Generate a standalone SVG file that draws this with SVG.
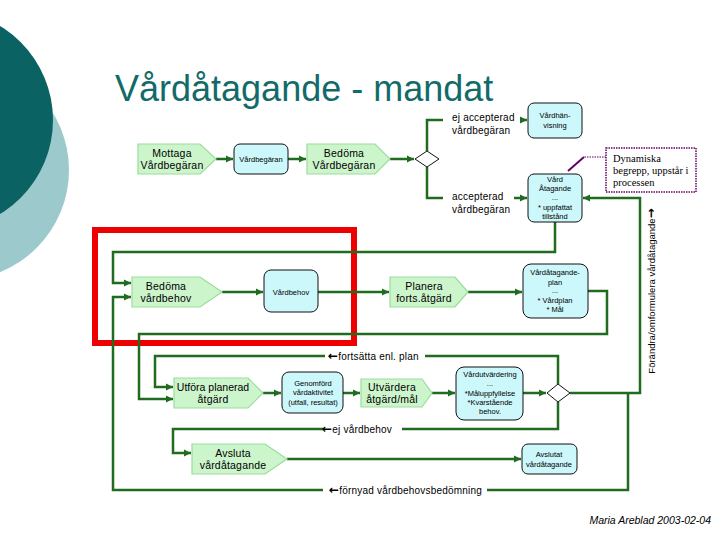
<svg xmlns="http://www.w3.org/2000/svg" width="720" height="540" viewBox="0 0 720 540">
<defs>
<style>
.pent{fill:#ccf5cc;stroke:#99dd99;stroke-width:1.2}
.box{fill:#ccf7fb;stroke:#111;stroke-width:1}
.c{fill:none;stroke:#1f6b1f;stroke-width:2.5}
.t{font-family:"Liberation Sans",Arial,sans-serif;font-size:10.5px;fill:#000;text-anchor:middle;letter-spacing:0.2px}
.s{font-family:"Liberation Sans",Arial,sans-serif;font-size:7.5px;fill:#000;text-anchor:middle}
.l{font-family:"Liberation Sans",Arial,sans-serif;font-size:10px;fill:#000;letter-spacing:0.2px}
.ar{font-family:"DejaVu Sans",sans-serif;font-weight:bold;font-size:12px}
</style>
<marker id="ah" markerWidth="8" markerHeight="8" refX="7" refY="4" orient="auto" markerUnits="userSpaceOnUse">
<path d="M0,0.5 L7,4 L0,7.5 Z" fill="#1f6b1f"/>
</marker>
</defs>
<rect width="720" height="540" fill="#fff"/>
<circle cx="-41" cy="170" r="110" fill="#9ccacc"/>
<circle cx="-57" cy="120" r="110" fill="#0b6262"/>
<text x="115" y="101" font-family="Liberation Sans,Arial,sans-serif" font-size="36" fill="#136a6a">Vårdåtagande - mandat</text>

<rect x="95" y="230" width="259" height="113" fill="none" stroke="#ee0000" stroke-width="6"/>

<g id="connectors">
<path class="c" d="M216,159 H233" marker-end="url(#ah)"/>
<path class="c" d="M288,159 H306" marker-end="url(#ah)"/>
<path class="c" d="M390,159 H414" marker-end="url(#ah)"/>
<path class="c" d="M427,151 V120 H443"/>
<path class="c" d="M520,120 H527" marker-end="url(#ah)"/>
<path class="c" d="M427,167 V198 H443"/>
<path class="c" d="M514,198 H527" marker-end="url(#ah)"/>
<path class="c" d="M570,393 H640 V198 H583" marker-end="url(#ah)"/>
<path class="c" d="M555,222 V252 H113 V283 H131" marker-end="url(#ah)"/>
<path class="c" d="M222,292 H263" marker-end="url(#ah)"/>
<path class="c" d="M318,292 H389" marker-end="url(#ah)"/>
<path class="c" d="M468,292 H522" marker-end="url(#ah)"/>
<path class="c" d="M588,291 H607 V334 H139 V399 H173" marker-end="url(#ah)"/>
<path class="c" d="M263,393 H281" marker-end="url(#ah)"/>
<path class="c" d="M343,393 H360" marker-end="url(#ah)"/>
<path class="c" d="M432,393 H455" marker-end="url(#ah)"/>
<path class="c" d="M523,393 H546" marker-end="url(#ah)"/>
<path class="c" d="M558,384 V356 H425"/>
<path class="c" d="M325,356 H155 V387 H173" marker-end="url(#ah)"/>
<path class="c" d="M558,402 V429 H402"/>
<path class="c" d="M323,429 H173 V453 H191" marker-end="url(#ah)"/>
<path class="c" d="M628,393 V490 H487"/>
<path class="c" d="M323,490 H113 V297 H131" marker-end="url(#ah)"/>
<path class="c" d="M287,459 H521" marker-end="url(#ah)"/>
</g>

<g id="mottaga">
<polygon class="pent" points="138,144 200,144 216,159 200,174 138,174"/>
<text class="t" x="172" y="157">Mottaga</text>
<text class="t" x="172" y="169">Vårdbegäran</text>
</g>
<g id="vardbegaran">
<rect class="box" x="234" y="144" width="54" height="30" rx="6"/>
<text class="s" x="261" y="162">Vårdbegäran</text>
</g>
<g id="bedoma-vardbegaran">
<polygon class="pent" points="307,144 375,144 390,159 375,174 307,174"/>
<text class="t" x="344" y="157">Bedöma</text>
<text class="t" x="344" y="169">Vårdbegäran</text>
</g>
<g id="beslut1">
<polygon points="415,159 427,151 439,159 427,167" fill="#fff" stroke="#111" stroke-width="1"/>
</g>
<g id="lbl-ej">
<text class="l" x="452" y="121">ej accepterad</text>
<text class="l" x="452" y="134">vårdbegäran</text>
</g>
<g id="lbl-acc">
<text class="l" x="452" y="200">accepterad</text>
<text class="l" x="452" y="213">vårdbegäran</text>
</g>
<g id="vardhanvisning">
<rect class="box" x="528" y="103" width="54" height="35" rx="6"/>
<text class="s" x="555" y="118">Vårdhän-</text>
<text class="s" x="555" y="128">visning</text>
</g>
<g id="vardatagande">
<rect class="box" x="528" y="174" width="54" height="48" rx="6"/>
<text class="s" x="555" y="182">Vård</text>
<text class="s" x="555" y="191">Åtagande</text>
<text class="s" x="555" y="200">...</text>
<text class="s" x="555" y="210">* uppfattat</text>
<text class="s" x="555" y="219">tillstånd</text>
</g>
<g id="note">
<rect x="606" y="148" width="90" height="44" fill="#fff" stroke="#660066" stroke-width="1.5" stroke-dasharray="1.5,1"/>
<path d="M606,157 H584" fill="none" stroke="#660066" stroke-width="1.2" stroke-dasharray="1.5,1"/>
<path d="M584,157 L568,171" fill="none" stroke="#660066" stroke-width="2"/>
<text x="613" y="162" font-family="Liberation Serif,Times New Roman,serif" font-size="10.5" fill="#000">Dynamiska</text>
<text x="613" y="174" font-family="Liberation Serif,Times New Roman,serif" font-size="10.5" fill="#000">begrepp, uppstår i</text>
<text x="613" y="186" font-family="Liberation Serif,Times New Roman,serif" font-size="10.5" fill="#000">processen</text>
</g>
<g id="lbl-forandra">
<text transform="translate(655,291) rotate(-90)" font-family="Liberation Sans,Arial,sans-serif" font-size="9.5" text-anchor="middle" fill="#000">Förändra/omformulera vårdåtagande<tspan class="ar">→</tspan></text>
</g>
<g id="bedoma-vardbehov">
<polygon class="pent" points="132,277 200,277 222,292 200,307 132,307"/>
<text class="t" x="166" y="290">Bedöma</text>
<text class="t" x="166" y="302">vårdbehov</text>
</g>
<g id="vardbehov">
<rect class="box" x="264" y="270" width="54" height="42" rx="7"/>
<text class="s" x="291" y="295">Vårdbehov</text>
</g>
<g id="planera">
<polygon class="pent" points="390,277 455,277 468,292 455,307 390,307"/>
<text class="t" x="424" y="290">Planera</text>
<text class="t" x="424" y="302">forts.åtgärd</text>
</g>
<g id="vardatagandeplan">
<rect class="box" x="523" y="264" width="65" height="54" rx="8"/>
<text class="s" x="555" y="275">Vårdåtagande-</text>
<text class="s" x="555" y="285">plan</text>
<text class="s" x="555" y="293">...</text>
<text class="s" x="555" y="303">* Vårdplan</text>
<text class="s" x="555" y="312">* Mål</text>
</g>
<g id="lbl-fortsatta">
<text class="l" x="328" y="360" font-size="9.5"><tspan class="ar">←</tspan>fortsätta enl. plan</text>
</g>
<g id="utfora">
<polygon class="pent" points="174,378 248,378 263,393 248,408 174,408"/>
<text class="t" x="213" y="391" style="letter-spacing:0">Utföra planerad</text>
<text class="t" x="213" y="403">åtgärd</text>
</g>
<g id="genomford">
<rect class="box" x="282" y="372" width="61" height="41" rx="7"/>
<text class="s" x="313" y="386">Genomförd</text>
<text class="s" x="313" y="395">vårdaktivitet</text>
<text class="s" x="313" y="405">(utfall, resultat)</text>
</g>
<g id="utvardera">
<polygon class="pent" points="361,379 422,379 432,393 422,407 361,407"/>
<text class="t" x="392" y="391">Utvärdera</text>
<text class="t" x="392" y="403">åtgärd/mål</text>
</g>
<g id="vardutvardering">
<rect class="box" x="456" y="367" width="67" height="53" rx="8"/>
<text class="s" x="490" y="377">Vårdutvärdering</text>
<text class="s" x="490" y="386">...</text>
<text class="s" x="490" y="396">*Måluppfyllelse</text>
<text class="s" x="490" y="405">*Kvarstående</text>
<text class="s" x="490" y="414">behov.</text>
</g>
<g id="beslut2">
<polygon points="547,393 558,384 570,393 558,402" fill="#fff" stroke="#111" stroke-width="1"/>
</g>
<g id="lbl-ejvardbehov">
<text class="l" x="322" y="433" font-size="9.5"><tspan class="ar">←</tspan>ej vårdbehov</text>
</g>
<g id="avsluta">
<polygon class="pent" points="192,444 265,444 287,459 265,474 192,474"/>
<text class="t" x="233" y="457">Avsluta</text>
<text class="t" x="233" y="469">vårdåtagande</text>
</g>
<g id="avslutat">
<rect class="box" x="522" y="444" width="55" height="30" rx="6"/>
<text class="s" x="549" y="457">Avslutat</text>
<text class="s" x="549" y="467">vårdåtagande</text>
</g>
<g id="lbl-fornyad">
<text class="l" x="329" y="494" font-size="9.5"><tspan class="ar">←</tspan>förnyad vårdbehovsbedömning</text>
</g>
<text x="711" y="524" text-anchor="end" font-family="Liberation Sans,Arial,sans-serif" font-size="10.5" font-style="italic" fill="#000">Maria Areblad 2003-02-04</text>
</svg>
